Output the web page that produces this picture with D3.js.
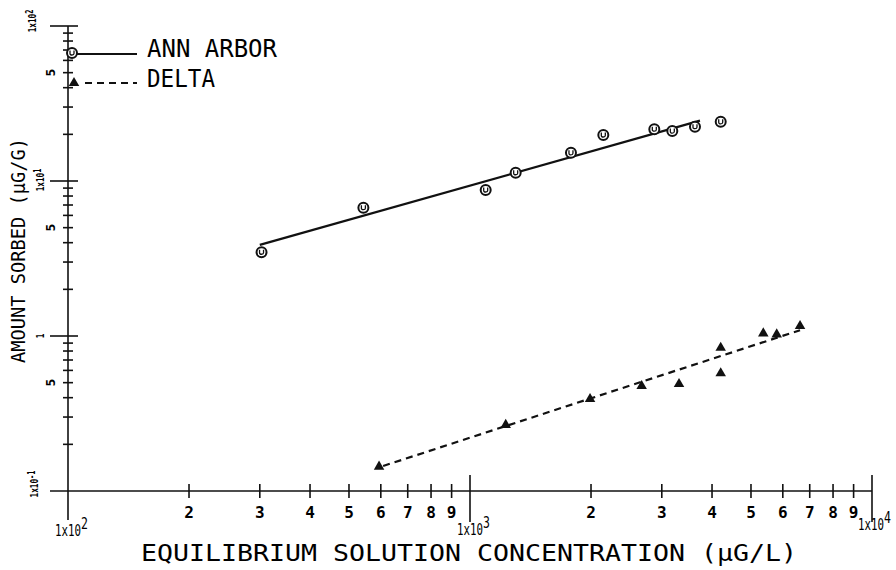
<!DOCTYPE html>
<html>
<head>
<meta charset="utf-8">
<script src="https://cdn.jsdelivr.net/npm/d3@7/dist/d3.min.js"></script>
<style>
  html, body { margin: 0; padding: 0; background: #fff; }
  svg { display: block; }
  text { fill: #000; }
</style>
</head>
<body>
<svg id="chart" width="896" height="570"></svg>
<script>
// Sorption isotherms: Ann Arbor vs Delta soils (log-log)
const annArborConc = [303, 543, 1094, 1299, 1783, 2146, 2874, 3186, 3628, 4204];
const annArborSorbed = [3.47, 6.73, 8.75, 11.3, 15.2, 19.8, 21.6, 21.0, 22.4, 24.1];
const deltaConc = [594, 1227, 1989, 2673, 3311, 4204, 4204, 5365, 5794, 6622];
const deltaSorbed = [0.1435, 0.267, 0.392, 0.476, 0.49, 0.84, 0.575, 1.04, 1.025, 1.16];

// Fitted lines (endpoints, in data units)
const annArborFitConc = [300, 3733];
const annArborFitSorbed = [3.87, 24.5];
const deltaFitConc = [608, 6622];
const deltaFitSorbed = [0.145, 1.09];

const seriesNames = ["ANN ARBOR", "DELTA"];
const xTitle = "EQUILIBRIUM SOLUTION CONCENTRATION (\u00B5G/L)";
const yTitle = "AMOUNT SORBED (\u00B5G/G)";
const minorDigits = [2, 3, 4, 5, 6, 7, 8, 9];
const xDecades = [100, 1000, 10000];
const xDecadeExp = ["2", "3", "4"];
const yDecades = [0.1, 1, 10, 100];

const svg = d3.select("#chart");
const x = d3.scaleLog().domain([100, 10000]).range([68, 872]);
const y = d3.scaleLog().domain([0.1, 100]).range([491, 26]);
const x0 = x(100), y0 = y(0.1);

const ink = "#111";
const monoFont = "'DejaVu Sans Mono', 'Liberation Mono', monospace";

// Axis lines
svg.append("line").attr("x1", 50).attr("x2", x(10000)).attr("y1", y0).attr("y2", y0)
  .attr("stroke", ink).attr("stroke-width", 1.6);
svg.append("line").attr("x1", x0).attr("x2", x0).attr("y1", y(100)).attr("y2", 520)
  .attr("stroke", ink).attr("stroke-width", 1.6);

// X minor ticks (crosses through the axis) and digit labels
const xMinor = [];
xDecades.slice(0, 2).forEach(d => minorDigits.forEach(m => xMinor.push({ v: d * m, m })));
const gx = svg.append("g");
gx.selectAll("line.xminor").data(xMinor).join("line")
  .attr("x1", d => x(d.v)).attr("x2", d => x(d.v))
  .attr("y1", y0 - 7).attr("y2", y0 + 7)
  .attr("stroke", ink).attr("stroke-width", 1.6);
gx.selectAll("text.xminor").data(xMinor).join("text")
  .attr("x", d => x(d.v)).attr("y", 518)
  .attr("text-anchor", "middle")
  .attr("font-family", monoFont).attr("font-weight", "bold").attr("font-size", 16)
  .text(d => d.m);

// X major ticks
gx.selectAll("line.xmajor").data(xDecades.slice(1)).join("line")
  .attr("x1", d => x(d)).attr("x2", d => x(d))
  .attr("y1", y0 - 16).attr("y2", y0 + 31)
  .attr("stroke", ink).attr("stroke-width", 1.6);

// X decade labels: 1x10^n (condensed by a horizontal scale)
const xDecLabelPos = [
  { base: 536, x0: 55 },
  { base: 535, x0: 457 },
  { base: 530, x0: 858 }
];
xDecades.forEach((d, i) => {
  const p = xDecLabelPos[i];
  const t = svg.append("text")
    .attr("transform", `translate(${p.x0},${p.base}) scale(0.72,1)`)
    .attr("font-family", monoFont).attr("font-size", 15);
  t.append("tspan").text("1x10");
  t.append("tspan").attr("dy", -7).attr("font-size", 16).text(xDecadeExp[i]);
});

// Y minor ticks
const yMinor = [];
yDecades.slice(0, 3).forEach(d => minorDigits.forEach(m => yMinor.push({ v: d * m, m })));
const gy = svg.append("g");
gy.selectAll("line.yminor").data(yMinor).join("line")
  .attr("x1", x0 - 5).attr("x2", x0 + 5)
  .attr("y1", d => y(d.v)).attr("y2", d => y(d.v))
  .attr("stroke", ink).attr("stroke-width", 1.6);
// "5" labels, rotated
gy.selectAll("text.five").data(yMinor.filter(d => d.m === 5)).join("text")
  .attr("transform", d => `translate(55,${y(d.v)}) rotate(-90)`)
  .attr("text-anchor", "middle")
  .attr("font-family", monoFont).attr("font-weight", "bold").attr("font-size", 13)
  .text("5");
// Y major ticks
gy.selectAll("line.ymajor").data(yDecades.slice(1)).join("line")
  .attr("x1", 50).attr("x2", x0 + 10)
  .attr("y1", d => y(d)).attr("y2", d => y(d))
  .attr("stroke", ink).attr("stroke-width", 1.6);

// Y decade labels (rotated, condensed)
const yDecLabels = [
  { v: 0.1, main: "1x10", exp: "-1", bx: 38, cy: 484 },
  { v: 1, main: "1", exp: "", bx: 44, cy: 336 },
  { v: 10, main: "1x10", exp: "1", bx: 44, cy: 180 },
  { v: 100, main: "1x10", exp: "2", bx: 36, cy: 21 }
];
yDecLabels.forEach(l => {
  const g = svg.append("g").attr("transform", `translate(${l.bx},${l.cy}) rotate(-90) scale(0.7,1)`);
  const t = g.append("text").attr("text-anchor", "middle")
    .attr("font-family", monoFont).attr("font-weight", "bold").attr("font-size", 11);
  t.append("tspan").text(l.main);
  if (l.exp !== "") t.append("tspan").attr("dy", -3).attr("font-size", 10).text(l.exp);
});

// Axis titles
svg.append("text")
  .attr("x", 141).attr("y", 561)
  .attr("font-family", monoFont).attr("font-size", 23)
  .attr("textLength", 656).attr("lengthAdjust", "spacingAndGlyphs")
  .text(xTitle);
svg.append("text")
  .attr("transform", "translate(25,363) rotate(-90)")
  .attr("font-family", monoFont).attr("font-size", 19)
  .attr("textLength", 225).attr("lengthAdjust", "spacingAndGlyphs")
  .text(yTitle);

// Fitted lines
const lineGen = d3.line().x(d => x(d[0])).y(d => y(d[1]));
svg.append("path")
  .attr("d", lineGen(d3.zip(annArborFitConc, annArborFitSorbed)))
  .attr("fill", "none").attr("stroke", ink).attr("stroke-width", 2.2);
svg.append("path")
  .attr("d", lineGen(d3.zip(deltaFitConc, deltaFitSorbed)))
  .attr("fill", "none").attr("stroke", ink).attr("stroke-width", 2.2)
  .attr("stroke-dasharray", "7,5");

// Markers
function drawCircleMarker(sel) {
  sel.append("circle").attr("r", 5).attr("fill", "#fff")
    .attr("stroke", ink).attr("stroke-width", 2);
  sel.append("path").attr("d", "M-2,-2.5 L-2,0.5 Q-2,2 0,2 Q2,2 2,0.5 L2,-2.5")
    .attr("fill", "none").attr("stroke", ink).attr("stroke-width", 1.3);
}
const tri = d3.symbol().type(d3.symbolTriangle).size(48);

const annPts = d3.zip(annArborConc, annArborSorbed);
svg.append("g").selectAll("g").data(annPts).join("g")
  .attr("transform", d => `translate(${x(d[0])},${y(d[1])})`)
  .each(function () { drawCircleMarker(d3.select(this)); });

const deltaPts = d3.zip(deltaConc, deltaSorbed);
svg.append("g").selectAll("path").data(deltaPts).join("path")
  .attr("d", tri)
  .attr("transform", d => `translate(${x(d[0])},${y(d[1])})`)
  .attr("fill", ink);

// Legend
const legend = svg.append("g");
drawCircleMarker(legend.append("g").attr("transform", "translate(72,53)"));
legend.append("line").attr("x1", 77).attr("x2", 137).attr("y1", 54).attr("y2", 54)
  .attr("stroke", ink).attr("stroke-width", 2.2);
legend.append("path").attr("d", tri).attr("transform", "translate(74,83)").attr("fill", ink);
legend.append("line").attr("x1", 85).attr("x2", 137).attr("y1", 83).attr("y2", 83)
  .attr("stroke", ink).attr("stroke-width", 2.2).attr("stroke-dasharray", "7,5");
legend.append("text").attr("x", 147).attr("y", 57)
  .attr("font-family", monoFont).attr("font-size", 24)
  .attr("textLength", 130).attr("lengthAdjust", "spacingAndGlyphs")
  .text(seriesNames[0]);
legend.append("text").attr("x", 147).attr("y", 87)
  .attr("font-family", monoFont).attr("font-size", 24)
  .attr("textLength", 68).attr("lengthAdjust", "spacingAndGlyphs")
  .text(seriesNames[1]);
</script>
</body>
</html>
